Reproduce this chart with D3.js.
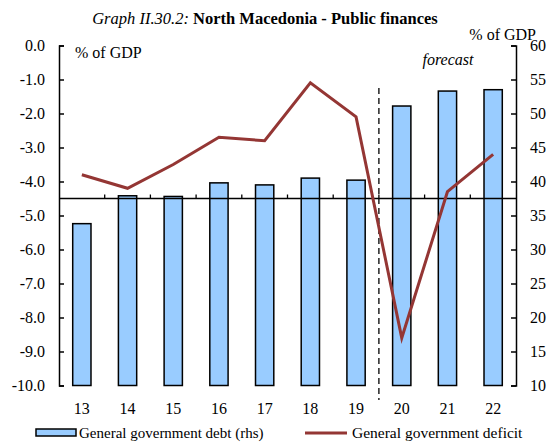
<!DOCTYPE html>
<html><head><meta charset="utf-8">
<script src="https://cdn.jsdelivr.net/npm/d3@7"></script>
<style>
body{margin:0;background:#fff;}
text{font-family:"Liberation Serif","Times New Roman",serif;fill:#000;}
</style></head>
<body>
<svg id="c" width="551" height="443"></svg>
<script>
const categories = ["13","14","15","16","17","18","19","20","21","22"];
const debt = [33.8, 37.9, 37.8, 39.8, 39.5, 40.5, 40.2, 51.1, 53.3, 53.5];
const deficit = [-3.8, -4.2, -3.5, -2.7, -2.8, -1.1, -2.1, -8.6, -4.3, -3.2];
const leftTicks = [0,-1,-2,-3,-4,-5,-6,-7,-8,-9,-10];
const rightTicks = [10,15,20,25,30,35,40,45,50,55,60];
const forecastStart = "20";

const svg = d3.select("#c");
const L = 59, R = 516, T = 45.5, B = 385.5;

const x = d3.scaleBand().domain(categories).range([L, R]).paddingInner(0.6).paddingOuter(0.3);
const step = x.step();
const yL = d3.scaleLinear().domain([-10, 0]).range([B, T]);
const yR = d3.scaleLinear().domain([10, 60]).range([B, T]);
const cx = d => x(d) + x.bandwidth()/2;

// title
const title = svg.append("text").attr("x", 265).attr("y", 24).attr("text-anchor","middle").style("font-size","16.5px");
title.append("tspan").style("font-style","italic").text("Graph II.30.2: ");
title.append("tspan").style("font-weight","bold").text("North Macedonia - Public finances");

// bars
svg.append("g").selectAll("rect").data(categories).join("rect")
  .attr("x", d => x(d)).attr("width", x.bandwidth())
  .attr("y", (d,i) => yR(debt[i])).attr("height", (d,i) => yR(10) - yR(debt[i]))
  .attr("fill", "#99ccff").attr("stroke", "#000").attr("stroke-width", 1.5);

// horizontal axis at -4.5
const axY = yL(-4.5);
svg.append("line").attr("x1", L).attr("x2", R).attr("y1", axY).attr("y2", axY)
  .attr("stroke","#000").attr("stroke-width",1.5);
svg.append("g").selectAll("line").data(d3.range(1, categories.length)).join("line")
  .attr("x1", k => L + k*step).attr("x2", k => L + k*step)
  .attr("y1", axY).attr("y2", axY - 4).attr("stroke","#000").attr("stroke-width",1.3);

// forecast dashed line
const fx = x(forecastStart) - step*x.paddingInner()/2;
svg.append("line").attr("x1", fx).attr("x2", fx).attr("y1", 88).attr("y2", 400)
  .attr("stroke","#000").attr("stroke-width",1.3).attr("stroke-dasharray","6,4");

// deficit line
svg.append("path").datum(categories)
  .attr("d", d3.line().x(d => cx(d)).y((d,i) => yL(deficit[i])))
  .attr("fill","none").attr("stroke","#943634").attr("stroke-width",3).attr("stroke-linejoin","miter");

// left axis
const gl = svg.append("g").attr("transform", `translate(${L},0)`)
  .call(d3.axisLeft(yL).tickValues(leftTicks).tickFormat(d => d.toFixed(1)).tickSize(-5).tickPadding(14));
// right axis
const gr = svg.append("g").attr("transform", `translate(${R},0)`)
  .call(d3.axisRight(yR).tickValues(rightTicks).tickFormat(d => String(d)).tickSize(-5).tickPadding(14));
[gl, gr].forEach(g => {
  g.select(".domain").attr("stroke-width",1.5);
  g.selectAll(".tick line").attr("stroke-width",1.5);
  g.selectAll("text").style("font-size","16px").style("font-family",'"Liberation Serif",serif');
});

// category labels
svg.append("g").selectAll("text").data(categories).join("text")
  .attr("x", d => cx(d)).attr("y", 414).attr("text-anchor","middle").style("font-size","16px").text(d => d);

// unit labels
svg.append("text").attr("x", 75).attr("y", 58).style("font-size","16px").text("% of GDP");
svg.append("text").attr("x", 536).attr("y", 40).attr("text-anchor","end").style("font-size","16px").text("% of GDP");
svg.append("text").attr("x", 448).attr("y", 65).attr("text-anchor","middle").style("font-size","16px").style("font-style","italic").text("forecast");

// legend
svg.append("rect").attr("x", 36).attr("y", 429).attr("width", 40).attr("height", 7)
  .attr("fill","#99ccff").attr("stroke","#000").attr("stroke-width",1.5);
svg.append("text").attr("x", 79).attr("y", 438).style("font-size","15px").text("General government debt (rhs)");
svg.append("line").attr("x1", 305).attr("x2", 347).attr("y1", 433).attr("y2", 433)
  .attr("stroke","#943634").attr("stroke-width",3);
svg.append("text").attr("x", 352).attr("y", 438).style("font-size","15.5px").text("General government deficit");
</script>
</body></html>
